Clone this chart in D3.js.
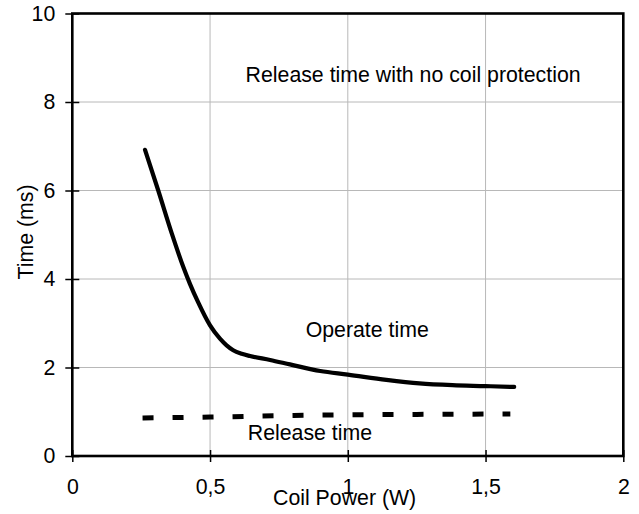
<!DOCTYPE html>
<html>
<head>
<meta charset="utf-8">
<script src="https://cdn.jsdelivr.net/npm/d3@7"></script>
<style>
  html, body { margin: 0; padding: 0; background: #fff; }
  svg { display: block; }
  text { font-family: "Liberation Sans", Arial, sans-serif; fill: #000; }
</style>
</head>
<body>
<svg id="chart" width="639" height="514"></svg>
<script>
// ---- data ----
const xTicks = [0, 0.5, 1, 1.5, 2];
const xTickLabels = ["0", "0,5", "1", "1,5", "2"];
const yTicks = [0, 2, 4, 6, 8, 10];
const yTickLabels = ["0", "2", "4", "6", "8", "10"];

const operatePower = [0.264, 0.312, 0.361, 0.403, 0.427, 0.457, 0.5, 0.536, 0.56, 0.584, 0.615, 0.645, 0.718, 0.79, 0.9, 1.0, 1.14, 1.26, 1.38, 1.5, 1.604];
const operateTime  = [6.92, 6.0, 5.03, 4.27, 3.89, 3.47, 2.95, 2.65, 2.5, 2.39, 2.31, 2.26, 2.17, 2.07, 1.92, 1.84, 1.72, 1.64, 1.60, 1.58, 1.56];

const releasePower = [0.255, 0.5, 0.75, 1.0, 1.25, 1.59];
const releaseTime  = [0.86, 0.88, 0.91, 0.93, 0.94, 0.95];

const xTitle = "Coil Power (W)";
const yTitle = "Time (ms)";
const annotations = [
  { text: "Release time with no coil protection", x: 0.629, y: 8.45 },
  { text: "Operate time", x: 0.847, y: 2.69 },
  { text: "Release time", x: 0.637, y: 0.36 }
];

// ---- layout ----
const pLeft = 72.3, pRight = 623.3, pTop = 13.5, pBottom = 456;
const svg = d3.select("#chart");
const x = d3.scaleLinear().domain([0, 2]).range([pLeft, pRight]);
const y = d3.scaleLinear().domain([0, 10]).range([pBottom, pTop]);

// gridlines
const grid = svg.append("g");
grid.selectAll("line.vg").data(xTicks.filter(d => d > 0 && d < 2)).enter().append("line")
  .attr("x1", d => x(d)).attr("x2", d => x(d)).attr("y1", pTop).attr("y2", pBottom)
  .attr("stroke", "#b8b8b8").attr("stroke-width", 1);
grid.selectAll("line.hg").data(yTicks.filter(d => d > 0 && d < 10)).enter().append("line")
  .attr("x1", pLeft).attr("x2", pRight).attr("y1", d => y(d)).attr("y2", d => y(d))
  .attr("stroke", "#b8b8b8").attr("stroke-width", 1);

// axes via d3
const fs = "21.3px";
const xAxis = d3.axisBottom(x).tickValues(xTicks).tickFormat((d, i) => xTickLabels[i])
  .tickSizeInner(6).tickSizeOuter(0).tickPadding(17);
const gx = svg.append("g").attr("transform", `translate(0,${pBottom})`).call(xAxis);
gx.select(".domain").remove();
gx.selectAll(".tick line").attr("stroke", "#000").attr("stroke-width", 1.5).attr("y1", -6);
gx.selectAll(".tick text").style("font-size", fs).style("font-family", "Liberation Sans, Arial, sans-serif").attr("fill", "#000");

const yAxis = d3.axisLeft(y).tickValues(yTicks).tickFormat((d, i) => yTickLabels[i])
  .tickSizeInner(7).tickSizeOuter(0).tickPadding(10);
const gy = svg.append("g").attr("transform", `translate(${pLeft},0)`).call(yAxis);
gy.select(".domain").remove();
gy.selectAll(".tick line").attr("stroke", "#000").attr("stroke-width", 1.5).attr("x2", 7).attr("x1", -7);
gy.selectAll(".tick text").style("font-size", fs).style("font-family", "Liberation Sans, Arial, sans-serif").attr("fill", "#000");

// frame
svg.append("rect").attr("x", pLeft).attr("y", pTop).attr("width", pRight - pLeft).attr("height", pBottom - pTop)
  .attr("fill", "none").attr("stroke", "#000").attr("stroke-width", 2.6);

// series
const line = d3.line().x(d => x(d[0])).y(d => y(d[1])).curve(d3.curveMonotoneX);
svg.append("path").datum(d3.zip(operatePower, operateTime)).attr("d", line)
  .attr("fill", "none").attr("stroke", "#000").attr("stroke-width", 4.2)
  .attr("stroke-linecap", "round").attr("stroke-linejoin", "round");
svg.append("path").datum(d3.zip(releasePower, releaseTime)).attr("d", line)
  .attr("fill", "none").attr("stroke", "#000").attr("stroke-width", 5)
  .attr("stroke-dasharray", "11,19");

// annotations
svg.selectAll("text.ann").data(annotations).enter().append("text")
  .attr("class", "ann")
  .attr("x", d => x(d.x)).attr("y", d => y(d.y))
  .style("font-size", fs)
  .text(d => d.text);

// axis titles
svg.append("text").attr("x", 273).attr("y", 505).style("font-size", fs).text(xTitle);
svg.append("text").attr("transform", "translate(33,232) rotate(-90)")
  .attr("text-anchor", "middle").style("font-size", fs).text(yTitle);
</script>
</body>
</html>
